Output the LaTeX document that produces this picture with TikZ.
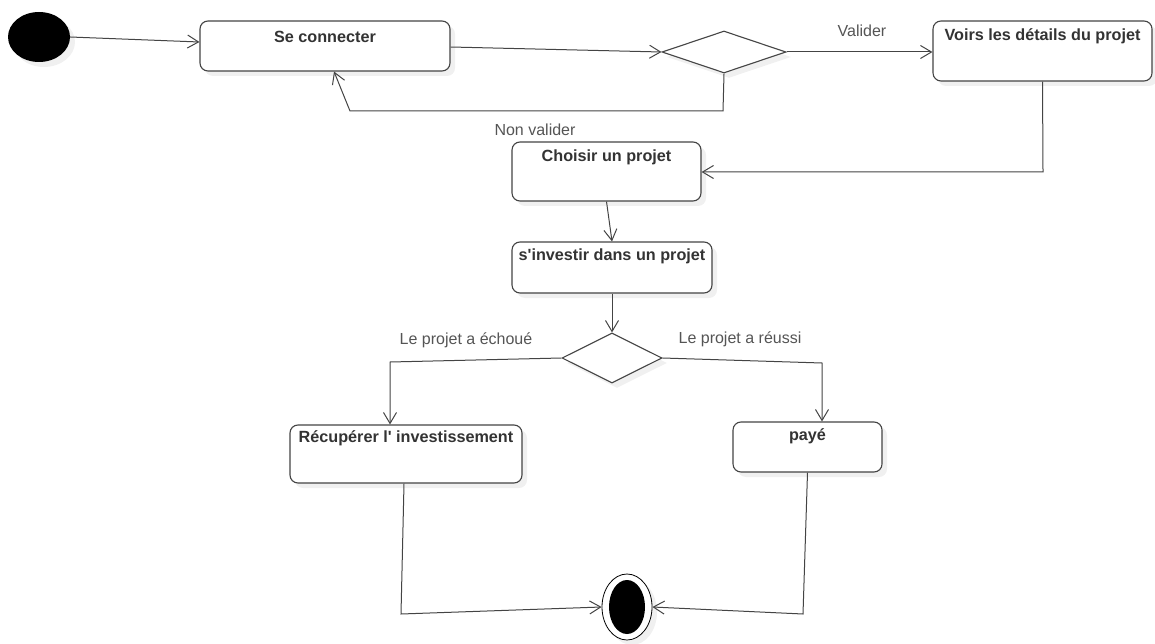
\documentclass[tikz,border=0pt]{standalone}
\usepackage{fontspec}
\setmainfont{Liberation Sans}
\usetikzlibrary{arrows.meta,shapes.geometric,shadows}
\definecolor{linec}{HTML}{444444}
\definecolor{txtc}{HTML}{333333}
\definecolor{lblc}{HTML}{555555}
\begin{document}
\begin{tikzpicture}[x=1pt,y=-1pt,
  shd/.style={drop shadow={shadow xshift=5pt,shadow yshift=-5pt,fill=black,opacity=.06}},
  box/.style={draw=linec,line width=1.1pt,rounded corners=8pt,fill=white,shd,inner sep=0pt},
  boxtext/.style={font=\fontsize{16.2}{19}\selectfont\bfseries,text=txtc,inner sep=0pt},
  lbl/.style={font=\fontsize{16}{19}\selectfont,text=lblc,inner sep=0pt},
  dia/.style={draw=linec,line width=1.1pt,diamond,fill=white,shd,inner sep=0pt},
  arr/.style={draw=linec,line width=1pt,-{Straight Barb[length=11pt,width=13pt,line width=1pt]}},
  ln/.style={draw=linec,line width=1pt}]
\useasboundingbox[fill=white] (0,0) rectangle (1155,644);

% start
\node[ellipse,fill=black,minimum width=62pt,minimum height=50pt,inner sep=0pt,shd] (start) at (39,37) {};

% boxes
\node[box,minimum width=250pt,minimum height=50pt] (sc) at (325,46) {};
\node[boxtext] at ([yshift=-16pt]sc.north) {Se connecter};

\node[box,minimum width=219pt,minimum height=60pt] (vd) at (1042.5,51) {};
\node[boxtext] at ([yshift=-16pt]vd.north) {Voirs les détails du projet};

\node[box,minimum width=189pt,minimum height=59pt] (ch) at (606.5,171.5) {};
\node[boxtext] at ([yshift=-16pt]ch.north) {Choisir un projet};

\node[box,minimum width=200pt,minimum height=51pt] (si) at (612,267.5) {};
\node[boxtext] at ([yshift=-15pt]si.north) {s\textquotesingle investir dans un projet};

\node[box,minimum width=232pt,minimum height=58pt] (re) at (406,454) {};
\node[boxtext] at ([yshift=-14pt]re.north) {Récupérer l\textquotesingle{} investissement};

\node[box,minimum width=149pt,minimum height=50pt] (pa) at (807.5,447) {};
\node[boxtext] at ([yshift=-15pt]pa.north) {payé};

% decisions
\node[dia,minimum width=124pt,minimum height=42pt] (d1) at (724,52) {};
\node[dia,minimum width=100pt,minimum height=50pt] (d2) at (612,358) {};

% end
\node[ellipse,draw=black,line width=0.8pt,fill=white,minimum width=50pt,minimum height=66pt,inner sep=0pt,shd] (end) at (627,607) {};
\node[ellipse,fill=black,minimum width=36pt,minimum height=54pt,inner sep=0pt] (endin) at (627,607) {};

% coordinates
\coordinate (c1) at (723,111);
\coordinate (c2) at (350,111);
\coordinate (c3) at (1043,172);
\coordinate (c4) at (390,362);
\coordinate (c5) at (822,363);
\coordinate (c6) at (401,614);
\coordinate (c7) at (803,614);

% connectors
\draw[arr] (start.east) -- ([yshift=4pt]sc.west);
\draw[arr] ([yshift=-1pt]sc.east) -- (d1.west);
\draw[arr] (d1.east) -- (d1.east -| vd.west);
\draw[arr] (d1.south) -- (c1) -- (c2) -- ([xshift=9pt]sc.south);
\draw[arr] (vd.south) -- (c3) -- (c3 -| ch.east);
\draw[arr] (ch.south) -- (si.north);
\draw[arr] (si.south) -- (d2.north);
\draw[arr] (d2.west) -- (c4) -- (c4 |- re.north);
\draw[arr] (d2.east) -- (c5) -- (c5 |- pa.north);
\draw[arr] ([xshift=-2pt]re.south) -- (c6) -- (end.west);
\draw[arr] (pa.south) -- (c7) -- (end.east);

% labels
\node[lbl] (lv) at (862,31) {Valider};
\node[lbl] (lnv) at (535,130) {Non valider};
\node[lbl] (le) at (466,340) {Le projet a échoué};
\node[lbl] (lr) at (740,339) {Le projet a réussi};
\end{tikzpicture}
\end{document}
